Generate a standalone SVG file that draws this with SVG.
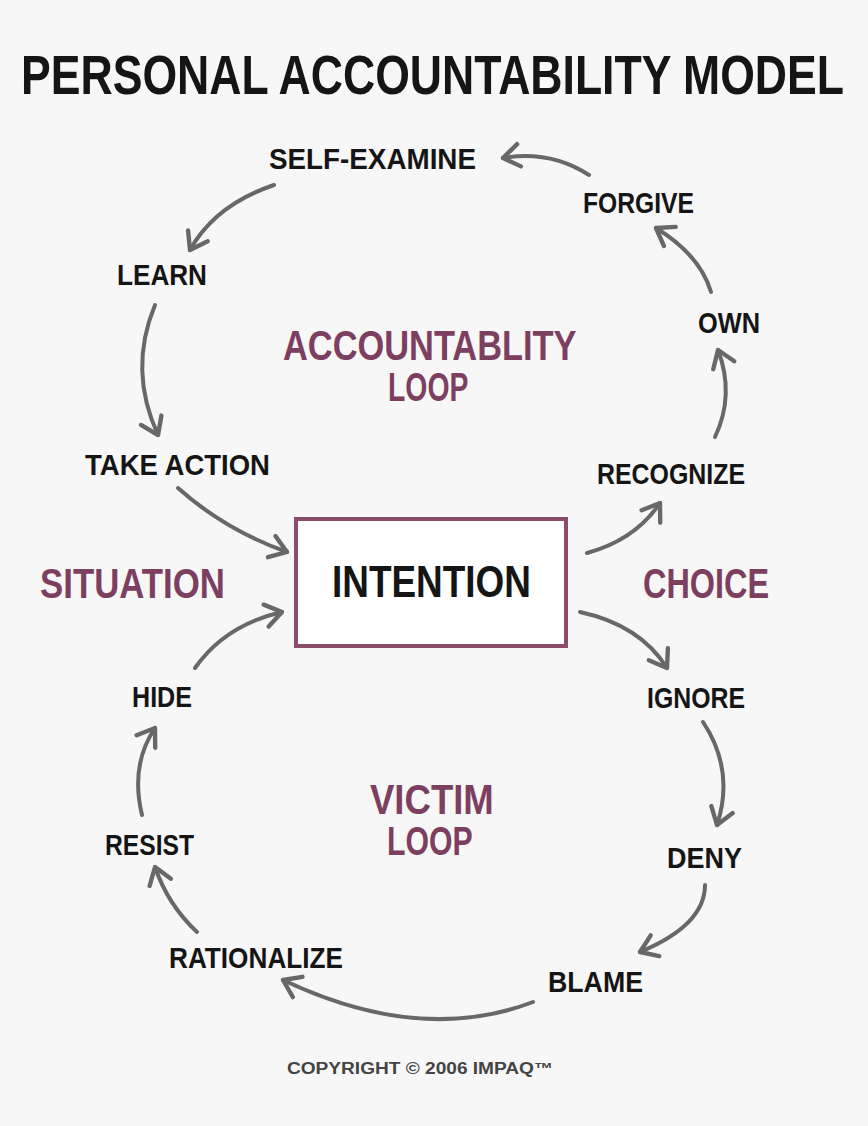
<svg xmlns="http://www.w3.org/2000/svg" width="868" height="1126" viewBox="0 0 868 1126">
<style>
.t{font-family:"Liberation Sans Narrow","Liberation Sans",Arial,sans-serif;font-weight:700;fill:#151515;font-size:30px}
.p{font-family:"Liberation Sans Narrow","Liberation Sans",Arial,sans-serif;font-weight:700;fill:#7d3f5f;font-size:43px}
.c{fill:none;stroke:#686868;stroke-width:4;stroke-linecap:round}
</style>
<defs>
<marker id="ah" markerUnits="userSpaceOnUse" markerWidth="30" markerHeight="30" viewBox="-16 -12 20 24" refX="0" refY="0" orient="auto">
<path d="M-13,-9 L0,0 L-13,9" fill="none" stroke="#686868" stroke-width="3.5" stroke-linecap="round" stroke-linejoin="round"/>
</marker>
</defs>
<rect width="868" height="1126" fill="#f7f7f7"/>
<text id="title" class="t" x="0" y="0" transform="translate(21,94) scale(0.796,1)" style="font-size:56px">PERSONAL ACCOUNTABILITY MODEL</text>
<g id="connectors">
<path class="c" marker-end="url(#ah)" d="M589,175 Q550,150 503,158"/>
<path class="c" marker-end="url(#ah)" d="M274,185 Q215,205 190,250"/>
<path class="c" marker-end="url(#ah)" d="M155,305 Q128,370 158,435"/>
<path class="c" marker-end="url(#ah)" d="M178,488 Q225,530 287,552"/>
<path class="c" marker-end="url(#ah)" d="M587,553 Q635,540 660,503"/>
<path class="c" marker-end="url(#ah)" d="M715,437 Q735,395 718,350"/>
<path class="c" marker-end="url(#ah)" d="M711,292 Q700,255 656,228"/>
<path class="c" marker-end="url(#ah)" d="M580,612 Q640,625 667,668"/>
<path class="c" marker-end="url(#ah)" d="M703,722 Q735,770 717,825"/>
<path class="c" marker-end="url(#ah)" d="M705,885 Q705,925 640,952"/>
<path class="c" marker-end="url(#ah)" d="M533,1002 Q420,1045 283,980"/>
<path class="c" marker-end="url(#ah)" d="M197,932 Q168,905 155,867"/>
<path class="c" marker-end="url(#ah)" d="M142,815 Q130,765 155,728"/>
<path class="c" marker-end="url(#ah)" d="M195,668 Q225,625 282,612"/>
</g>
<g id="intention">
<rect x="296" y="519" width="270" height="127" fill="#ffffff" stroke="#8a4d6b" stroke-width="4"/>
<text class="t" x="332" y="597" style="font-size:44px" textLength="199" lengthAdjust="spacingAndGlyphs">INTENTION</text>
</g>
<g id="self-examine"><text class="t" x="269" y="169" textLength="207" lengthAdjust="spacingAndGlyphs">SELF-EXAMINE</text></g>
<g id="forgive"><text class="t" x="583" y="213" textLength="111" lengthAdjust="spacingAndGlyphs">FORGIVE</text></g>
<g id="learn"><text class="t" x="117" y="285" textLength="90" lengthAdjust="spacingAndGlyphs">LEARN</text></g>
<g id="own"><text class="t" x="698" y="333" textLength="62" lengthAdjust="spacingAndGlyphs">OWN</text></g>
<g id="take-action"><text class="t" x="85" y="475" textLength="185" lengthAdjust="spacingAndGlyphs">TAKE ACTION</text></g>
<g id="recognize"><text class="t" x="597" y="484" textLength="148" lengthAdjust="spacingAndGlyphs">RECOGNIZE</text></g>
<g id="hide"><text class="t" x="132" y="707" textLength="60" lengthAdjust="spacingAndGlyphs">HIDE</text></g>
<g id="ignore"><text class="t" x="647" y="708" textLength="98" lengthAdjust="spacingAndGlyphs">IGNORE</text></g>
<g id="resist"><text class="t" x="105" y="855" textLength="89" lengthAdjust="spacingAndGlyphs">RESIST</text></g>
<g id="deny"><text class="t" x="667" y="868" textLength="75" lengthAdjust="spacingAndGlyphs">DENY</text></g>
<g id="rationalize"><text class="t" x="169" y="968" textLength="174" lengthAdjust="spacingAndGlyphs">RATIONALIZE</text></g>
<g id="blame"><text class="t" x="548" y="992" textLength="95" lengthAdjust="spacingAndGlyphs">BLAME</text></g>
<g id="labels">
<text class="p" transform="translate(283,360) scale(0.8,1)" x="0" y="0">ACCOUNTABLITY</text>
<text class="p" transform="translate(388,401) scale(0.71,1)" x="0" y="0" style="font-size:40px">LOOP</text>
<text class="p" x="40" y="598" textLength="185" lengthAdjust="spacingAndGlyphs">SITUATION</text>
<text class="p" x="643" y="598" textLength="126" lengthAdjust="spacingAndGlyphs">CHOICE</text>
<text class="p" transform="translate(370,814) scale(0.85,1)" x="0" y="0">VICTIM</text>
<text class="p" transform="translate(387,855) scale(0.755,1)" x="0" y="0" style="font-size:40px">LOOP</text>
</g>
<text x="287" y="1074" font-family="Liberation Sans, Arial, sans-serif" font-weight="700" font-size="16" fill="#444444" textLength="266" lengthAdjust="spacingAndGlyphs">COPYRIGHT © 2006 IMPAQ™</text>
</svg>
